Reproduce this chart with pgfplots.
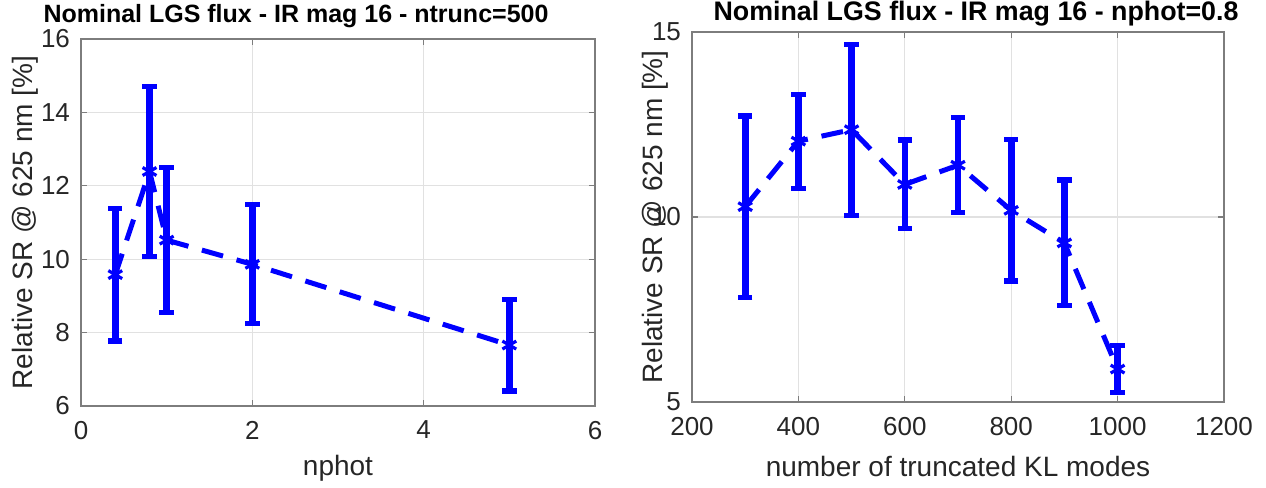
\documentclass[border=0pt]{standalone}
\usepackage{pgfplots}
\pgfplotsset{compat=1.18}
\usepackage{fontspec}
\setmainfont{Liberation Sans}
\definecolor{mblue}{RGB}{0,0,255}
\definecolor{axgray}{RGB}{125,125,125}
\definecolor{gridgray}{RGB}{225,225,225}
\definecolor{txtgray}{RGB}{38,38,38}
\pgfplotsset{
  mstyle/.style={
    scale only axis,
    axis line style={draw=axgray, line width=0.6pt},
    grid=major,
    major grid style={draw=gridgray, line width=0.6pt},
    tick style={draw=axgray, line width=0.6pt},
    major tick length=3pt,
    tick align=inside,
    ticklabel style={font=\fontsize{13}{15}\selectfont, text=txtgray},
    label style={font=\fontsize{14}{16}\selectfont, text=txtgray},
    /pgf/number format/assume math mode=true,
    /pgf/number format/1000 sep={},
    xticklabel style={yshift=-4pt},
    yticklabel style={xshift=-2pt},
  },
  mline/.style={
    mblue, line width=2.5pt, dash pattern=on 11pt off 7pt,
    mark=asterisk, mark size=4pt, mark options={solid, line width=1.6pt},
    error bars/.cd, y dir=both, y explicit,
    error bar style={solid, line width=3.3pt, mblue},
    error mark options={solid, rotate=90, line width=2.6pt, mark size=3.6pt, mblue},
  },
}
\begin{document}
\begin{tikzpicture}
\useasboundingbox (0,0) rectangle (633pt,-244pt);
\begin{axis}[mstyle,
  at={(40.5pt,-19.5pt)}, anchor=north west,
  width=257pt, height=183.5pt,
  xmin=0, xmax=6, ymin=6, ymax=16,
  xtick={0,2,4,6}, ytick={6,8,10,12,14,16},
  xlabel={nphot},
  ylabel={Relative SR @ 625 nm [\%]},
  xlabel style={at={(axis description cs:0.5,0)}, anchor=center, yshift=-31pt},
  ylabel style={at={(axis description cs:-0.108,0.5)}, anchor=center, rotate=0},
]
\addplot[mline] coordinates {
  (0.4,9.58) +- (0,1.81)
  (0.8,12.39) +- (0,2.31)
  (1,10.52) +- (0,1.98)
  (2,9.86) +- (0,1.62)
  (5,7.66) +- (0,1.25)
};
\end{axis}
\begin{axis}[mstyle,
  at={(346pt,-16pt)}, anchor=north west,
  width=266pt, height=185pt,
  xmin=200, xmax=1200, ymin=5, ymax=15,
  xtick={200,400,600,800,1000,1200}, ytick={5,10,15},
  xlabel={number of truncated KL modes},
  ylabel={Relative SR @ 625 nm [\%]},
  xlabel style={at={(axis description cs:0.5,0)}, anchor=center, yshift=-32pt},
  ylabel style={at={(axis description cs:-0.069,0.5)}, anchor=center, rotate=0},
]
\addplot[mline] coordinates {
  (300,10.28) +- (0,2.45)
  (400,12.05) +- (0,1.27)
  (500,12.36) +- (0,2.31)
  (600,10.88) +- (0,1.2)
  (700,11.40) +- (0,1.28)
  (800,10.18) +- (0,1.91)
  (900,9.30) +- (0,1.7)
  (1000,5.89) +- (0,0.64)
};
\end{axis}
\node[anchor=base, font=\fontsize{12.5}{14}\selectfont\bfseries, text=black] at (148pt,-11pt) {Nominal LGS flux - IR mag 16 - ntrunc=500};
\node[anchor=base, font=\fontsize{13.4}{15}\selectfont\bfseries, text=black] at (488pt,-10pt) {Nominal LGS flux - IR mag 16 - nphot=0.8};
\end{tikzpicture}
\end{document}
